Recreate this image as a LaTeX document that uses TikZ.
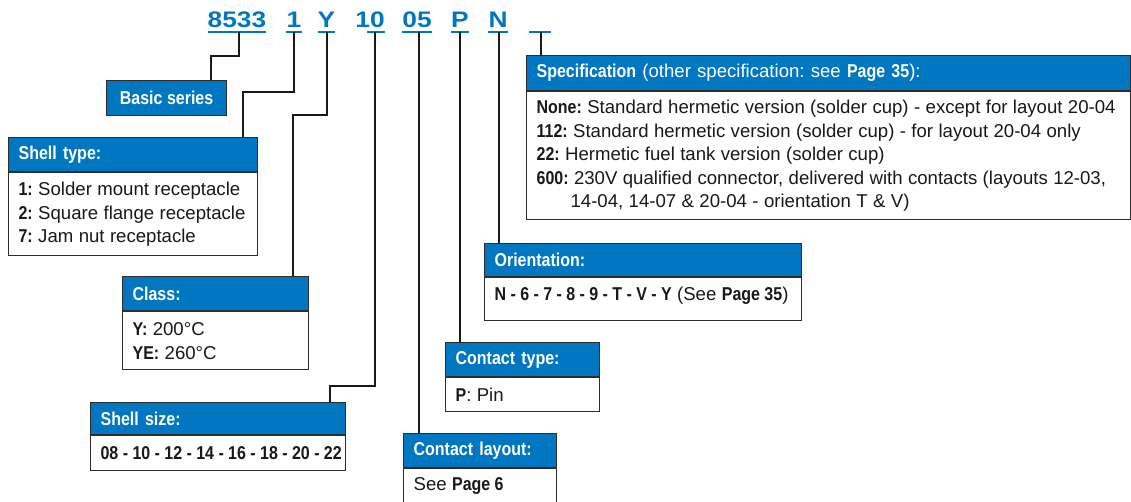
\documentclass[tikz,border=0pt]{standalone}
\usepackage{fontspec}
\setmainfont{Liberation Sans}[BoldFeatures={FakeStretch=0.86}]
\newfontfamily\codefont{Liberation Sans}[FakeStretch=1.17]
\definecolor{brand}{RGB}{0,119,192}
\definecolor{boxline}{RGB}{45,45,45}
\definecolor{ink}{RGB}{25,25,25}
\DeclareRobustCommand\bt[1]{{\bfseries\spaceskip=4.4pt\relax #1}}
\DeclareRobustCommand\bodysp{\frenchspacing\spaceskip=5.4pt\relax}
\tikzset{
  hdr/.style={draw=boxline, line width=1.2pt, fill=brand, text=white, anchor=north west,
    inner xsep=10pt, inner ysep=0pt, align=left, font=\bfseries\fontsize{18.6}{22}\selectfont},
  bodybox/.style={draw=boxline, line width=1.2pt, fill=white, text=ink, anchor=north west,
    inner xsep=10pt, inner ysep=0pt, align=left, font=\fontsize{18.6}{23.6}\selectfont},
  code/.style={text=brand, anchor=base, inner sep=0pt, font=\codefont\bfseries\fontsize{22.5}{27}\selectfont},
  uline/.style={draw=brand, line width=1.6pt},
  conn/.style={draw=ink, line width=1.2pt},
}
\newcommand\infobox[8]{%
  \node[hdr, text width=#4pt, minimum height=#5pt] (#1H) at (#2,#3) {\mbox{\frenchspacing #7}};
  \node[bodybox, text width=#4pt, minimum height=#6pt] (#1B) at (#1H.south west) {\bodysp #8};}
\begin{document}
\begin{tikzpicture}[x=1pt,y=-1pt]
\useasboundingbox (0,0) rectangle (1131,502);

% code letters
\node[code] (c8533) at (237,28) {8533};
\node[code] (c1) at (294,28) {1};
\node[code] (cY) at (326.5,28) {Y};
\node[code] (c10) at (370,28) {10};
\node[code] (c05) at (417,28) {05};
\node[code] (cP) at (460,28) {P};
\node[code] (cN) at (498,28) {N};
\node[code, minimum width=21pt] (cS) at (540,28) {};

\foreach \n in {c8533,c1,cY,c05,cP,cN,cS}
  \draw[uline] ([yshift=-4pt]\n.base west) -- ([yshift=-4pt]\n.base east);
\draw[uline] ([xshift=12pt,yshift=-4pt]c10.base west) -- ([yshift=-4pt]c10.base east);

% boxes
\node[hdr, minimum width=120pt, minimum height=35pt, align=center] (bsN) at (106,80) {Basic series};

\infobox{st}{8}{137}{229}{34}{83}{Shell type:}
  {\mbox{\bt{1:} Solder mount receptacle}\\ \mbox{\bt{2:} Square flange receptacle}\\ \mbox{\bt{7:} Jam nut receptacle}}
\infobox{cl}{122}{276}{166}{34}{58}{Class:}
  {\mbox{\bt{Y:} 200°C}\\ \mbox{\bt{YE:} 260°C}}
\infobox{ss}{90}{402}{235}{32}{35}{Shell size:}
  {\mbox{\bt{08 - 10 - 12 - 14 - 16 - 18 - 20 - 22}}}
\infobox{cly}{403}{433}{133}{34}{34}{Contact layout:}
  {\mbox{See \bt{Page 6}}}
\infobox{ct}{445}{342}{134}{34}{34}{Contact type:}
  {\mbox{\bt{P}: Pin}}
\infobox{or}{484}{243}{297}{33}{43}{Orientation:}
  {\raisebox{4pt}[\height][\depth]{\mbox{\bt{N - 6 - 7 - 8 - 9 - T - V - Y} (See \bt{Page 35})}}}
\infobox{sp}{526}{55}{584}{35}{128}{Specification\mdseries{} (other specification: see \bfseries Page 35\mdseries):}
  {\mbox{\bt{None:} Standard hermetic version (solder cup) - except for layout 20-04}\\
   \mbox{\bt{112:} Standard hermetic version (solder cup) - for layout 20-04 only}\\
   \mbox{\bt{22:} Hermetic fuel tank version (solder cup)}\\
   \mbox{\bt{600:} 230V qualified connector, delivered with contacts (layouts 12-03,}\\
   \mbox{\hspace*{34pt}14-04, 14-07 \& 20-04 - orientation T \& V)}}

% connectors
\coordinate (u8533) at ([xshift=2pt,yshift=-4pt]c8533.base);
\coordinate (u1) at ([yshift=-4pt]c1.base);
\coordinate (uY) at ([xshift=0.5pt,yshift=-4pt]cY.base);
\coordinate (u10) at ([xshift=5pt,yshift=-4pt]c10.base);
\coordinate (u05) at ([xshift=2pt,yshift=-4pt]c05.base);
\coordinate (uP) at ([yshift=-4pt]cP.base);
\coordinate (uN) at ([xshift=1pt,yshift=-4pt]cN.base);
\coordinate (uS) at ([xshift=1pt,yshift=-4pt]cS.base);

\draw[conn] (u8533) -- ++(0,24) -| ([xshift=105pt]bsN.north west);
\draw[conn] (u1) -- ++(0,60) -| ([xshift=235pt]stH.north west);
\draw[conn] (uY) -- ++(0,83) -| ([xshift=171pt]clH.north west);
\draw[conn] (u10) -- ++(0,354) -| ([xshift=240pt]ssH.north west);
\draw[conn] (u05) -- (u05 |- clyH.north);
\draw[conn] (uP) -- (uP |- ctH.north);
\draw[conn] (uN) -- (uN |- orH.north);
\draw[conn] (uS) -- (uS |- spH.north);
\end{tikzpicture}
\end{document}
